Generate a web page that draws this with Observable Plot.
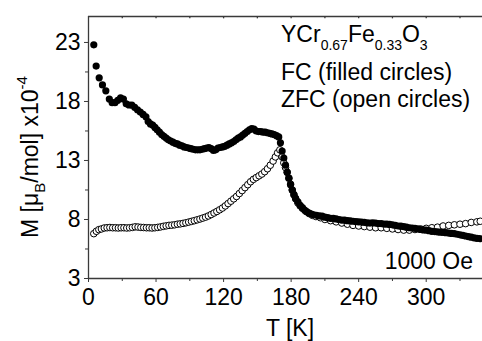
<!DOCTYPE html>
<html>
<head>
<meta charset="utf-8">
<script src="https://cdn.jsdelivr.net/npm/d3@7"></script>
<script src="https://cdn.jsdelivr.net/npm/@observablehq/plot@0.6"></script>
<style>
  html, body { margin: 0; padding: 0; background: #fff; }
  #chart svg { display: block; }
</style>
</head>
<body>
<div id="chart"></div>
<script>
// ---- data ----
const xTicks = [0, 60, 120, 180, 240, 300];
const xMinorTicks = [30, 90, 150, 210, 270, 330];
const yTicks = [3, 8, 13, 18, 23];
const yMinorTicks = [5.5, 10.5, 15.5, 20.5];

// FC (filled circles): temperature [K] and magnetisation [x1e-4 muB/mol]
const fcT = [4.7,6.8,9.5,12.4,15.4,18.5,21,23.5,26,28.5,31,33.5,36,38.5,41,43.5,46,48.5,51,53,55,57,59,61,63,65,67,69,71,73,75,77,79,81,83,85,87,89,91,93,95,97,99,101,103,105,107,109,111,113,115,117,119,121,123,125,127,129,131,133,135,137,139,141,143,145,147,149,151,153,155,157,159,161,163,165,167,169,170.5,172,173.5,175,176.5,178,179.5,181,182.5,184,186,188,190,192,194,196,198,200,202.5,205,207.5,210,212.5,215,217.5,220,222.5,225,227.5,230,232.5,235,237.5,240,242.5,245,247.5,250,252.5,255,257.5,260,262.5,265,267.5,270,272.5,275,277.5,280,282.5,285,287.5,290,292.5,295,297.5,300,302.5,305,307.5,310,312.5,315,317.5,320,322.5,325,327.5,330,332.5,335,337.5,340,342.5,345,347.5];
const fcM = [22.8,21.0,20.0,19.4,18.9,18.2,17.9,17.9,18.1,18.3,18.2,17.8,17.7,17.7,17.5,17.3,17.1,16.9,16.7,16.3,16.1,16.0,15.8,15.6,15.4,15.2,15.05,14.9,14.75,14.65,14.55,14.45,14.4,14.3,14.25,14.15,14.1,14.05,14.0,13.95,13.9,13.9,13.9,13.95,14.0,14.05,14.1,14.0,13.85,13.9,14.05,14.1,14.15,14.2,14.3,14.4,14.5,14.6,14.75,14.9,15.0,15.15,15.3,15.45,15.6,15.7,15.65,15.5,15.45,15.45,15.4,15.4,15.35,15.3,15.25,15.2,15.1,15.0,14.5,13.8,13.2,12.6,12.0,11.5,10.95,10.5,10.1,9.8,9.5,9.2,9.0,8.8,8.65,8.55,8.45,8.4,8.35,8.3,8.28,8.2,8.15,8.1,8.1,8.05,8.0,7.95,7.95,7.9,7.88,7.85,7.82,7.8,7.78,7.75,7.72,7.7,7.72,7.7,7.66,7.65,7.62,7.6,7.58,7.55,7.5,7.45,7.43,7.4,7.35,7.3,7.28,7.25,7.2,7.15,7.12,7.1,7.05,7.0,6.98,6.95,6.92,6.9,6.88,6.85,6.82,6.8,6.75,6.7,6.65,6.6,6.55,6.5,6.45,6.4,6.38];

// ZFC (open circles)
const zfcT = [4.7,7,9.2,11.5,14,16.5,19,21.5,24,26.5,29,31.5,34,36.5,39,41.5,44,46.5,49,51.5,54,56.5,59,61.5,64,66.5,69,71.5,74,76.5,79,81.5,84,86.5,89,91.5,94,96.5,99,101.5,104,106.5,109,111.5,114,116.5,119,121.5,124,126.5,129,131.5,134,136.5,139,141.5,144,146.5,149,151.5,154,156.5,159,161.5,164,166,168,170,172,173.5,175,176.5,178,179.5,181,182.5,184,186,188,190,193,196,199,202,206,210,215,220,225,230,235,240,245,250,255,260,265,270,275,280,285,290,295,300,305,310,315,320,325,330,335,340,345,348];
const zfcM = [6.8,7.0,7.14,7.2,7.28,7.3,7.32,7.3,7.3,7.28,7.3,7.3,7.28,7.3,7.33,7.38,7.36,7.33,7.32,7.3,7.3,7.28,7.3,7.33,7.37,7.42,7.46,7.5,7.52,7.55,7.6,7.63,7.67,7.72,7.78,7.84,7.9,7.97,8.04,8.12,8.2,8.3,8.42,8.55,8.68,8.82,8.97,9.15,9.35,9.55,9.75,9.95,10.2,10.45,10.7,10.95,11.2,11.4,11.55,11.7,11.85,12.05,12.3,12.6,12.95,13.3,13.65,13.9,13.3,12.8,12.4,12.0,11.5,11.0,10.5,10.1,9.75,9.4,9.15,8.95,8.7,8.5,8.35,8.25,8.15,8.0,7.9,7.8,7.7,7.6,7.5,7.45,7.4,7.35,7.3,7.3,7.25,7.2,7.15,7.1,7.1,7.15,7.2,7.25,7.3,7.35,7.45,7.5,7.55,7.6,7.65,7.75,7.8,7.85];

const fc = fcT.map((t, i) => ({T: t, M: fcM[i]}));
const zfc = zfcT.map((t, i) => ({T: t, M: zfcM[i]}));

const legendLines = ["FC (filled circles)", "ZFC (open circles)"];
const fieldLabel = "1000 Oe";

// ---- chart ----
const W = 482, H = 341;
const yMax = 25.2, xMax = 350;
const axisColor = "#3a3a3a";
const font = "Arial, 'Liberation Sans', Helvetica, sans-serif";
const topTicks = [...xMinorTicks, ...xTicks.slice(1)];

const chart = Plot.plot({
  width: W,
  height: H,
  marginLeft: 88,
  marginRight: 0,
  marginTop: 16,
  marginBottom: 63,
  style: {fontFamily: font, fontSize: "23px", color: "black", background: "white"},
  x: {domain: [0, xMax], axis: null},
  y: {domain: [3, yMax], axis: null},
  marks: [
    // frame lines (left, bottom, top)
    Plot.ruleX([0], {stroke: axisColor, strokeWidth: 1.3}),
    Plot.ruleY([3], {stroke: axisColor, strokeWidth: 1.3}),
    Plot.ruleY([yMax], {stroke: axisColor, strokeWidth: 1.3}),
    // bottom axis
    Plot.axisX({ticks: xTicks, tickSize: 4, tickPadding: 6, label: null, fontSize: 23, stroke: axisColor}),
    Plot.axisX({ticks: xMinorTicks, tickSize: 3, tickFormat: () => "", label: null, stroke: axisColor}),
    // top axis: short inward ticks
    Plot.ruleX(topTicks, {x: d => d, y1: yMax, y2: yMax - 0.2, stroke: axisColor, strokeWidth: 1.3}),
    // left axis
    Plot.axisY({ticks: yTicks, tickSize: 4, tickPadding: 4, label: null, fontSize: 23, stroke: axisColor}),
    Plot.axisY({ticks: yMinorTicks, tickSize: 3, tickFormat: () => "", label: null, stroke: axisColor}),
    // data
    Plot.dot(zfc, {x: "T", y: "M", r: 3.3, fill: "white", stroke: "black", strokeWidth: 1}),
    Plot.dot(fc, {x: "T", y: "M", r: 3.6, fill: "black", stroke: "none"})
  ]
});

document.getElementById("chart").appendChild(chart);

// ---- texts with sub/superscripts ----
const svg = d3.select(chart);
const g = svg.append("g").attr("font-family", font).attr("fill", "black").attr("text-anchor", "start");

// Y axis title
const yl = g.append("text")
  .attr("transform", "translate(38,157) rotate(-90)")
  .attr("text-anchor", "middle")
  .attr("font-size", 23);
yl.append("tspan").text("M [\u03bc");
yl.append("tspan").attr("font-size", 15).attr("dy", 7).text("B");
yl.append("tspan").attr("dy", -7).text("/mol] x10");
yl.append("tspan").attr("font-size", 15).attr("dy", -11).text("-4");

// X axis title
g.append("text")
  .attr("x", 290).attr("y", 336)
  .attr("text-anchor", "middle")
  .attr("font-size", 23)
  .text("T [K]");

// compound formula
const f = g.append("text").attr("x", 281).attr("y", 42).attr("font-size", 23).attr("text-anchor", "start");
f.append("tspan").text("YCr");
f.append("tspan").attr("font-size", 14).attr("dy", 8).text("0.67");
f.append("tspan").attr("dy", -8).text("Fe");
f.append("tspan").attr("font-size", 14).attr("dy", 8).text("0.33");
f.append("tspan").attr("dy", -8).text("O");
f.append("tspan").attr("font-size", 14).attr("dy", 8).text("3");

g.append("text").attr("x", 281).attr("y", 80).attr("font-size", 23).attr("text-anchor", "start").text(legendLines[0]);
g.append("text").attr("x", 281).attr("y", 107).attr("font-size", 23).attr("text-anchor", "start").text(legendLines[1]);

g.append("text").attr("x", 473).attr("y", 269).attr("text-anchor", "end").attr("font-size", 23).text(fieldLabel);
</script>
</body>
</html>
